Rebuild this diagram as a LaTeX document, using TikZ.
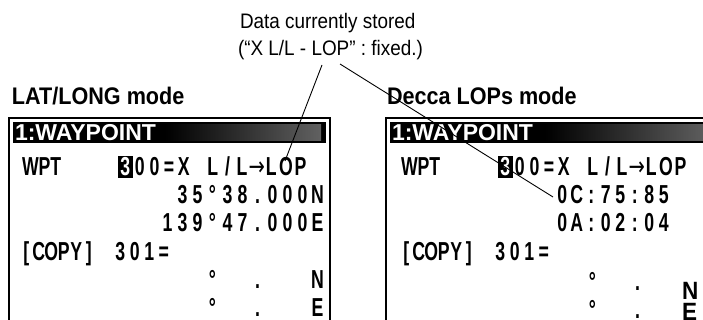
\documentclass[tikz,border=0pt]{standalone}
\usepackage{fontspec}
\setmainfont{Liberation Sans}
\newfontfamily\lcdf{Liberation Sans}[FakeStretch=0.68]
\newfontfamily\narrowf{Liberation Sans}[FakeStretch=0.9]
\newfontfamily\arrf{DejaVu Sans}[FakeStretch=0.75]
\newcommand\rarr{{\arrf\mdseries →}}
\newlength\mpitch
\def\lcdrow#1#2{\setlength\mpitch{#1}\lcdaux#2\relax}
\def\lcdaux#1{\ifx#1\relax\else\makebox[\mpitch][c]{#1}\expandafter\lcdaux\fi}
\begin{document}
\begin{tikzpicture}[x=1pt,y=-1pt,
  lbl/.style={font=\narrowf\fontsize{21}{21}\selectfont,anchor=base west,inner sep=0,outer sep=0},
  ttl/.style={font=\narrowf\bfseries\fontsize{24}{24}\selectfont,anchor=base west,inner sep=0,outer sep=0},
  lcd/.style={font=\lcdf\bfseries\fontsize{26}{26}\selectfont,anchor=base west,inner sep=0,outer sep=0},
  hdr/.style={font=\bfseries\fontsize{23}{23}\selectfont,text=white,anchor=base west,inner sep=0,outer sep=0},
  cur/.style={lcd,fill=black,text=white,inner ysep=1.5pt},
  bigl/.style={font=\narrowf\bfseries\fontsize{25}{25}\selectfont,anchor=base west,inner sep=0,outer sep=0},
  frame/.style={draw=black,line width=1.6pt},
  leader/.style={draw=black,line width=0.9pt}]
\useasboundingbox (0,0) rectangle (703,320);
\clip (0,0) rectangle (703,320);
\fill[white] (0,0) rectangle (703,320);

% caption
\node[lbl] (cap1) at (240,29) {Data currently stored};
\node[lbl] (cap2) at (238,56) {(“X L/L - LOP” : fixed.)};

% titles
\node[ttl] (t1) at (12,105) {LAT/LONG mode};
\node[ttl] (t2) at (387,105) {Decca LOPs mode};

% ---------- left display ----------
\draw[frame] (9,118) rectangle (330,340);
\fill[black] (13,122) rectangle (326,143);
\shade[left color=black,right color=black!62] (165,124.5) rectangle (321,140.5);
\node[hdr] (h1) at (15,140.5) {1:WAYPOINT};
\node[lcd] (w1) at (22,176) {WPT};
\node[cur] (c1) at (118,176) {\lcdrow{14.6pt}{3}};
\node[lcd] (r1) at (132.6,176) {\lcdrow{14.6pt}{00=X~L/L\rarr LOP}};
\node[lcd] (r2) at (175,204) {\lcdrow{15pt}{35°38.000N}};
\node[lcd] (r3) at (160,232) {\lcdrow{15pt}{139°47.000E}};
\node[lcd] (r4a) at (20,260) {\lcdrow{12.5pt}{[COPY]}};
\node[lcd] (r4b) at (113,260) {\lcdrow{14.5pt}{301=}};
\node[lcd] (r5) at (175,288) {\lcdrow{15pt}{~~°~~.~~~N}};
\node[lcd] (r6) at (175,316) {\lcdrow{15pt}{~~°~~.~~~E}};

% ---------- right display ----------
\draw[frame] (386,118) rectangle (720,340);
\fill[black] (390,122) rectangle (716,143);
\shade[left color=black,right color=black!62] (545,124.5) rectangle (712,140.5);
\node[hdr] (h2) at (392,140.5) {1:WAYPOINT};
\node[lcd] (w2) at (401,176) {WPT};
\node[cur] (c2) at (498,176) {\lcdrow{14.6pt}{3}};
\node[lcd] (s1) at (512.6,176) {\lcdrow{14.6pt}{00=X~L/L\rarr LOP}};
\node[lcd] (s2) at (555,204) {\lcdrow{14.5pt}{0C:75:85}};
\node[lcd] (s3) at (555,232) {\lcdrow{14.5pt}{0A:02:04}};
\node[lcd] (s4a) at (400,260) {\lcdrow{12.5pt}{[COPY]}};
\node[lcd] (s4b) at (493,260) {\lcdrow{14.5pt}{301=}};
\node[lcd] (s5) at (555,290) {\lcdrow{15pt}{~~°~~.}};
\node[lcd] (s6) at (555,318) {\lcdrow{15pt}{~~°~~.}};
\node[bigl] (sn) at (682,299.5) {N};
\node[bigl] (se) at (682,320) {E};

% leaders
\coordinate (p1) at (322,65);
\coordinate (e1) at (285,161);
\coordinate (p2) at (340,64);
\coordinate (e2) at (553,197);
\draw[leader] (p1) -- (e1);
\draw[leader] (p2) -- (e2);
\end{tikzpicture}
\end{document}
